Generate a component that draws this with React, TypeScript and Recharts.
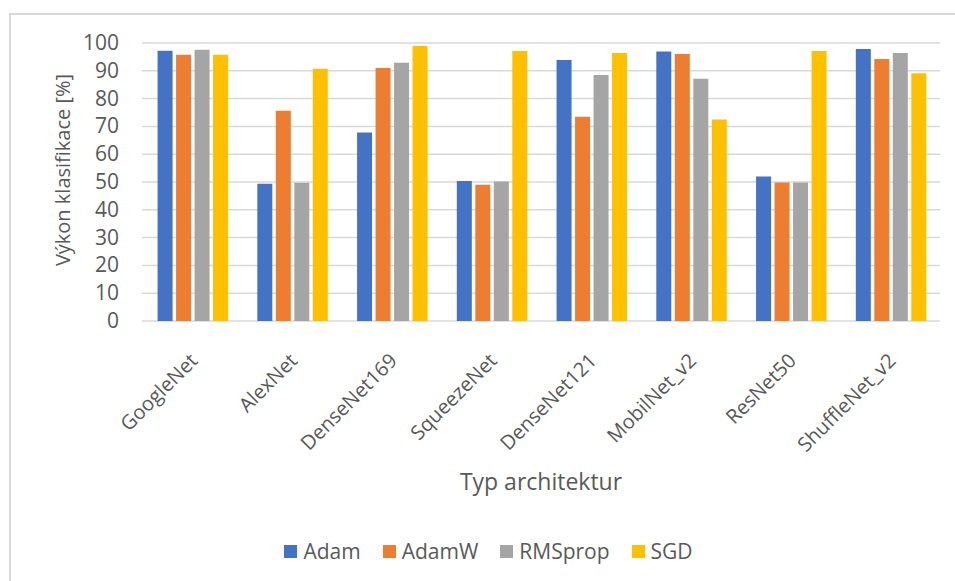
import React from "react";
import { BarChart, Bar, XAxis, YAxis, CartesianGrid, Legend, Label } from "recharts";

const categories = ["GoogleNet", "AlexNet", "DenseNet169", "SqueezeNet", "DenseNet121", "MobilNet_v2", "ResNet50", "ShuffleNet_v2"];
const adam = [97.2, 49.4, 67.8, 50.4, 93.9, 96.9, 52.0, 97.8];
const adamW = [95.8, 75.6, 91.0, 49.0, 73.5, 96.0, 49.8, 94.2];
const rmsprop = [97.6, 49.7, 92.9, 50.2, 88.5, 87.1, 49.8, 96.4];
const sgd = [95.8, 90.7, 98.9, 97.1, 96.4, 72.5, 97.1, 89.1];
const yTicks = [0, 10, 20, 30, 40, 50, 60, 70, 80, 90, 100];

const seriesNames = ["Adam", "AdamW", "RMSprop", "SGD"];
const seriesColors = ["#4472C4", "#ED7D31", "#A5A5A5", "#FFC000"];

const data = categories.map((c, i) => ({
  name: c,
  Adam: adam[i],
  AdamW: adamW[i],
  RMSprop: rmsprop[i],
  SGD: sgd[i],
}));

const FONT = "'Open Sans', sans-serif";
const TEXT = "#595959";

const XTick = (props: any) => {
  const { x, y, payload } = props;
  return (
    <g transform={`translate(${x + 7},${y + 33})`}>
      <text x={0} y={0} textAnchor="end" transform="rotate(-45)" fill={TEXT} fontFamily={FONT} fontSize={20}>
        {payload.value}
      </text>
    </g>
  );
};

const YTick = (props: any) => {
  const { x, y, payload } = props;
  return (
    <text x={x} y={y} dy={7} textAnchor="end" fill={TEXT} fontFamily={FONT} fontSize={21}>
      {payload.value}
    </text>
  );
};

const LegendContent = () => (
  <div style={{ display: "flex", justifyContent: "center", alignItems: "center", fontFamily: FONT, fontSize: 21, color: TEXT, paddingLeft: 22 }}>
    {seriesNames.map((n, i) => (
      <div key={n} style={{ display: "flex", alignItems: "center", marginLeft: i === 0 ? 0 : 22 }}>
        <div style={{ width: 13, height: 13, background: seriesColors[i], marginRight: 6 }} />
        <span>{n}</span>
      </div>
    ))}
  </div>
);

export default function App() {
  return (
    <div style={{ position: "fixed", left: 0, top: 0, width: 955, height: 581, overflow: "hidden", background: "#fff" }}>
      <div style={{ position: "absolute", left: 9, top: 13, width: 1000, height: 700, border: "2px solid #d9d9d9", boxSizing: "border-box" }} />
      <div style={{ position: "absolute", left: 0, top: 0 }}>
        <BarChart
          width={955}
          height={581}
          data={data}
          margin={{ top: 43, right: 15, bottom: 0, left: 0 }}
          barCategoryGap="15.6%"
          barGap={3.5}
        >
          <CartesianGrid vertical={false} stroke="#d9d9d9" strokeWidth={1.5} />
          <XAxis
            dataKey="name"
            height={260}
            axisLine={false}
            tickLine={false}
            interval={0}
            tick={<XTick />}
          >
            <Label
              content={(p: any) => {
                const vb = p.viewBox;
                return (
                  <text x={vb.x + vb.width / 2} y={490} textAnchor="middle" fill={TEXT} fontFamily={FONT} fontSize={23}>
                    Typ architektur
                  </text>
                );
              }}
            />
          </XAxis>
          <YAxis
            width={142}
            domain={[0, 100]}
            ticks={yTicks}
            axisLine={false}
            tickLine={false}
            tickSize={0}
            tickMargin={23}
            tick={<YTick />}
            interval={0}
          >
            <Label
              content={() => (
                <text
                  x={62}
                  y={170}
                  transform="rotate(-90, 62, 170)"
                  textAnchor="middle"
                  dominantBaseline="central"
                  fill={TEXT}
                  fontFamily={FONT}
                  fontSize={20}
                >
                  Výkon klasifikace [%]
                </text>
              )}
            />
          </YAxis>
          <Legend
            layout="horizontal"
            verticalAlign="middle"
            align="center"
            wrapperStyle={{ top: 537, left: 0, width: 955 }}
            content={<LegendContent />}
          />
          {seriesNames.map((n, i) => (
            <Bar key={n} dataKey={n} fill={seriesColors[i]} isAnimationActive={false} />
          ))}
        </BarChart>
      </div>
    </div>
  );
}
